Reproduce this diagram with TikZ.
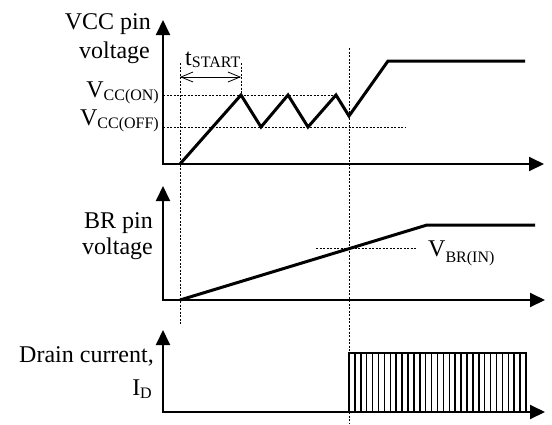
\documentclass[tikz,border=0pt]{standalone}
\usepackage{fontspec}
\setmainfont{Liberation Serif}
\usetikzlibrary{arrows.meta}
\newcommand{\sbs}[2][3pt]{\raisebox{-#1}{\fontsize{16}{16}\selectfont #2}}
\begin{document}
\begin{tikzpicture}[x=1pt,y=-1pt,
  axis/.style={line width=2pt,{Triangle[length=15pt,width=14pt]}-{Triangle[length=15pt,width=14pt]}},
  wave/.style={line width=3pt},
  guide/.style={line width=0.8pt,dash pattern=on 2pt off 1.5pt},
  span/.style={line width=0.8pt,{Straight Barb[length=12pt,width=10pt]}-{Straight Barb[length=12pt,width=10pt]}},
  pulse/.style={line width=1.5pt},
  lbl/.style={font=\fontsize{24}{28}\selectfont,inner sep=0pt}]
\useasboundingbox (0,0) rectangle (552,424);

% axes
\coordinate (o1) at (163,164); \coordinate (y1) at (163,20); \coordinate (x1) at (544,164);
\coordinate (o2) at (163,300); \coordinate (y2) at (163,186); \coordinate (x2) at (545,300);
\coordinate (o3) at (163,412); \coordinate (y3) at (163,330); \coordinate (x3) at (545,412);
\draw[axis] (y1) -- (o1) -- (x1);
\draw[axis] (y2) -- (o2) -- (x2);
\draw[axis] (y3) -- (o3) -- (x3);

% guides
\coordinate (g1a) at (180,63); \coordinate (g1b) at (180,325);
\coordinate (g2a) at (241,63); \coordinate (g2b) at (241,95);
\coordinate (g3a) at (349,48); \coordinate (g3b) at (349,424);
\draw[guide] (g1a) -- (g1b);
\draw[guide] (g2a) -- (g2b);
\draw[guide] (g3a) -- (g3b);
\draw[guide] (163,95) -- (337,95);
\draw[guide] (163,127) -- (406,127);
\draw[guide] (316,248) -- (417,248);

% t_start span
\coordinate (sa) at (180,77); \coordinate (sb) at (241,77);
\draw[span] (sa) -- (sb);

% waveforms
\draw[wave] (180,164) -- (241,95) -- (261,127) -- (288,95) -- (308,127) -- (336,95) -- (349,116) -- (388,61) -- (525,61);
\draw[wave] (180,300) -- (427,225) -- (535,225);

% drain current pulses
\draw[pulse] (349,412) rectangle (526,353);
\foreach \i in {1,...,29} \draw[pulse] ({349+\i*177/30},353) -- ++(0,59);

% labels
\node[lbl,anchor=base east] (vccA) at (151,29) {VCC pin};
\node[lbl,anchor=base east] (vccB) at (150,58) {voltage};
\node[lbl,anchor=base west] (ts) at (185,65) {t\sbs[2pt]{START}};
\node[lbl,anchor=base east] (von) at (159,97) {V\sbs{CC(ON)}};
\node[lbl,anchor=base east] (voff) at (159,125) {V\sbs{CC(OFF)}};
\node[lbl,anchor=base east] (brA) at (153,228) {BR pin};
\node[lbl,anchor=base east] (brB) at (153,254) {voltage};
\node[lbl,anchor=base west] (vbr) at (428,256) {V\sbs[6pt]{BR(IN)}};
\node[lbl,anchor=base east] (dc) at (154,362) {Drain current,};
\node[lbl,anchor=base east] (id) at (152,395) {I\sbs{D}};
\end{tikzpicture}
\end{document}
